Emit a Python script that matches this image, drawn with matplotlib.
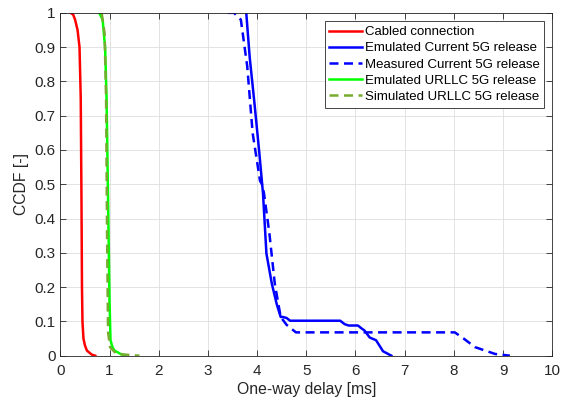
import matplotlib
matplotlib.use("Agg")
import matplotlib.pyplot as plt

plt.rcParams['font.family'] = ['Liberation Sans', 'DejaVu Sans']

# ---- data (delay in ms, CCDF) ----
cabled_x = [0.21, 0.26, 0.30, 0.35, 0.39, 0.415, 0.43, 0.44, 0.45, 0.47, 0.50, 0.54, 0.64, 0.71]
cabled_y = [1.0, 0.995, 0.98, 0.95, 0.90, 0.75, 0.45, 0.20, 0.10, 0.05, 0.03, 0.015, 0.003, 0.0]

emu_cur_x = [3.78, 3.85, 3.94, 4.04, 4.12, 4.19, 4.30, 4.40, 4.48, 4.52, 4.60, 4.67,
             5.69, 5.78, 5.86, 6.05, 6.12, 6.18, 6.29, 6.42, 6.56, 6.73]
emu_cur_y = [1.0, 0.87, 0.746, 0.60, 0.474, 0.298, 0.21, 0.15, 0.113, 0.113, 0.11, 0.102,
             0.102, 0.092, 0.088, 0.088, 0.08, 0.074, 0.053, 0.045, 0.013, 0.0]

meas_cur_x = [3.40, 3.53, 3.67, 3.80, 3.91, 4.06, 4.10, 4.14, 4.25, 4.36, 4.48, 4.60,
              4.79, 8.02, 8.20, 8.43, 8.84, 9.14]
meas_cur_y = [1.0, 1.0, 0.98, 0.844, 0.649, 0.51, 0.50, 0.474, 0.357, 0.21, 0.113, 0.09,
              0.068, 0.068, 0.05, 0.025, 0.005, 0.0]

emu_urllc_x = [0.79, 0.86, 0.91, 0.94, 0.97, 1.00, 1.02, 1.06, 1.10, 1.24, 1.37]
emu_urllc_y = [1.0, 0.98, 0.90, 0.75, 0.46, 0.16, 0.045, 0.025, 0.015, 0.004, 0.0]

sim_urllc_x = [0.84, 0.90, 0.93, 0.95, 0.97, 1.01, 1.14, 1.61]
sim_urllc_y = [1.0, 0.94, 0.75, 0.36, 0.07, 0.025, 0.005, 0.0]

# ---- plot ----
fig = plt.figure(figsize=(5.66, 4.01), dpi=100)
ax = fig.add_axes([0.1066, 0.113, 0.869, 0.855])

lw = 1.8
dash = (3.6, 2.2)
ax.plot(cabled_x, cabled_y, color='#ff0000', lw=lw, label='Cabled connection')
ax.plot(emu_cur_x, emu_cur_y, color='#0000ff', lw=lw, label='Emulated Current 5G release')
ax.plot(meas_cur_x, meas_cur_y, color='#0000ff', lw=lw, ls='--', dashes=dash,
        label='Measured Current 5G release')
ax.plot(emu_urllc_x, emu_urllc_y, color='#00ff00', lw=lw, label='Emulated URLLC 5G release')
ax.plot(sim_urllc_x, sim_urllc_y, color='#77ac30', lw=lw, ls='--', dashes=dash,
        label='Simulated URLLC 5G release')

ax.set_xlim(0, 10)
ax.set_ylim(0, 1)
ax.set_xticks(range(0, 11))
ax.set_yticks([i / 10 for i in range(11)])
ax.set_yticklabels(['0', '0.1', '0.2', '0.3', '0.4', '0.5', '0.6', '0.7', '0.8', '0.9', '1'])
ax.tick_params(direction='in', top=True, right=True, labelsize=11, colors='#262626',
               length=4, width=0.6)
ax.tick_params(axis='x', pad=6)
ax.grid(True, color='#dedede', lw=0.6)
for s in ax.spines.values():
    s.set_color('#262626')
    s.set_linewidth(0.6)

ax.set_xlabel('One-way delay [ms]', fontsize=11.3, color='#262626', labelpad=3)
ax.set_ylabel('CCDF [-]', fontsize=11.3, color='#262626')

leg = ax.legend(loc='upper right', bbox_to_anchor=(0.984, 0.975), fontsize=9.5,
                handlelength=2.5, handletextpad=0.2, borderpad=0.35, labelspacing=0.3,
                borderaxespad=0, fancybox=False, framealpha=1)
leg.get_frame().set_edgecolor('#262626')
leg.get_frame().set_linewidth(0.6)

plt.savefig("out.png", dpi=100)
